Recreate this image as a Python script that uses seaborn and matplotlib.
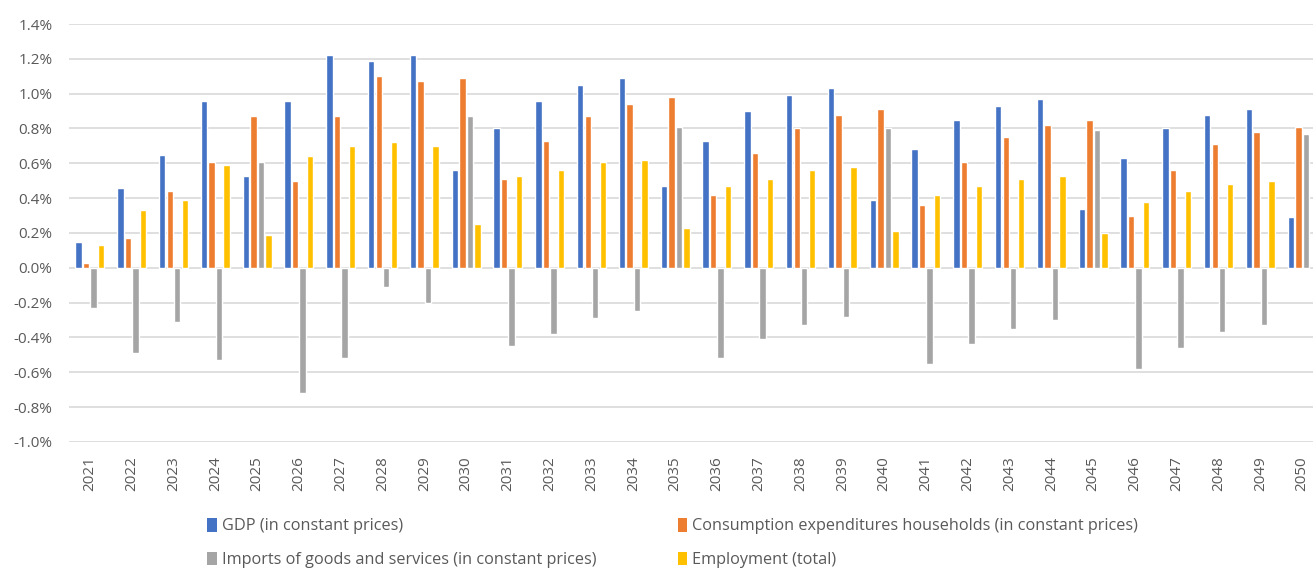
import matplotlib

matplotlib.use("Agg")
import matplotlib.pyplot as plt
import numpy as np
import pandas as pd
import seaborn as sns
from matplotlib.patches import Patch
from matplotlib.ticker import FuncFormatter

years = [str(y) for y in range(2021, 2051)]

gdp = [0.15, 0.46, 0.65, 0.96, 0.53, 0.96, 1.22, 1.19, 1.22, 0.56,
       0.80, 0.96, 1.05, 1.09, 0.47, 0.73, 0.90, 0.99, 1.03, 0.39,
       0.68, 0.85, 0.93, 0.97, 0.34, 0.63, 0.80, 0.88, 0.91, 0.29]
consumption = [0.03, 0.17, 0.44, 0.61, 0.87, 0.50, 0.87, 1.10, 1.07, 1.09,
               0.51, 0.73, 0.87, 0.94, 0.98, 0.42, 0.66, 0.80, 0.88, 0.91,
               0.36, 0.61, 0.75, 0.82, 0.85, 0.30, 0.56, 0.71, 0.78, 0.81]
imports = [-0.23, -0.49, -0.31, -0.53, 0.61, -0.72, -0.52, -0.11, -0.20, 0.87,
           -0.45, -0.38, -0.29, -0.25, 0.81, -0.52, -0.41, -0.33, -0.28, 0.80,
           -0.55, -0.44, -0.35, -0.30, 0.79, -0.58, -0.46, -0.37, -0.33, 0.77]
# 2050 employment bar falls outside the visible frame
employment = [0.13, 0.33, 0.39, 0.59, 0.19, 0.64, 0.70, 0.72, 0.70, 0.25,
              0.53, 0.56, 0.61, 0.62, 0.23, 0.47, 0.51, 0.56, 0.58, 0.21,
              0.42, 0.47, 0.51, 0.53, 0.20, 0.38, 0.44, 0.48, 0.50, np.nan]

series_names = [
    "GDP (in constant prices)",
    "Consumption expenditures households (in constant prices)",
    "Imports of goods and services (in constant prices)",
    "Employment (total)",
]
colors = ["#4472C4", "#ED7D31", "#A5A5A5", "#FFC000"]

df = pd.DataFrame({
    "year": years * 4,
    "series": np.repeat(series_names, len(years)),
    "value": gdp + consumption + imports + employment,
})

sns.set_theme(style="white")
plt.rcParams["font.family"] = ["Open Sans", "DejaVu Sans"]

fig = plt.figure(figsize=(13.13, 5.70), dpi=100)
ax = fig.add_axes([69 / 1313, 1 - 442 / 570, 1 - 69 / 1313, (442 - 24) / 570])

sns.barplot(data=df, x="year", y="value", hue="series", hue_order=series_names,
            palette=colors, saturation=1, width=0.72, gap=0.15,
            legend=False, ax=ax)


def pct(v, _):
    if abs(v) < 1e-9:
        v = 0.0
    return f"{v:.1f}%"


ax.set_ylim(-1.0, 1.4)
ax.set_yticks(np.arange(-1.0, 1.41, 0.2))
ax.yaxis.set_major_formatter(FuncFormatter(pct))
ax.set_xlim(-0.5, 29.26)
ax.grid(axis="y", color="#D9D9D9", linewidth=1.2)
ax.set_axisbelow(True)
for s in ax.spines.values():
    s.set_visible(False)
ax.set_xlabel("")
ax.set_ylabel("")
ax.tick_params(axis="y", length=0, pad=12, labelsize=11, labelcolor="#595959")
ax.tick_params(axis="x", length=0, pad=10, labelsize=11, labelcolor="#595959",
               labelrotation=90)

# legend: column-major fill, so GDP/Consumption share the first row
order = [0, 2, 1, 3]
handles = [Patch(facecolor=colors[i], edgecolor="none") for i in order]
labels = [series_names[i] for i in order]
fig.legend(handles, labels, ncol=2, loc="upper left",
           bbox_to_anchor=(199 / 1313, 1 - 510 / 570), frameon=False,
           fontsize=11.7, labelcolor="#595959", handlelength=0.6,
           handleheight=0.9, handletextpad=0.3, columnspacing=5.0,
           labelspacing=1.05, borderpad=0)

fig.savefig("out.png", dpi=100)
